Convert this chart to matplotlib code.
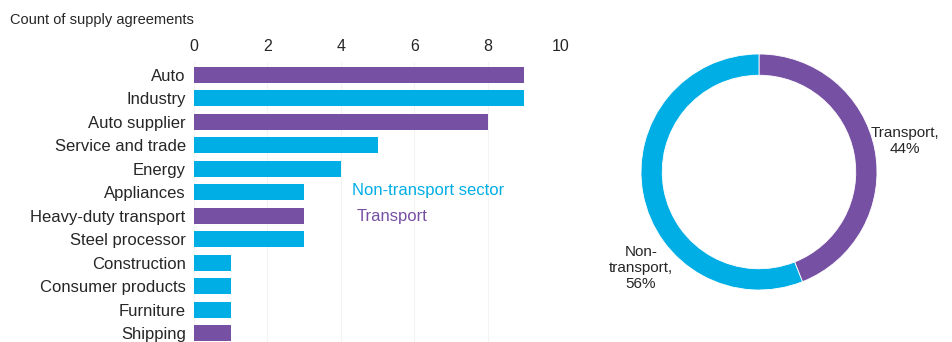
import numpy as np
import matplotlib.pyplot as plt

plt.rcParams['font.family'] = ['Liberation Sans', 'DejaVu Sans']

sectors = ['Auto', 'Industry', 'Auto supplier', 'Service and trade', 'Energy',
           'Appliances', 'Heavy-duty transport', 'Steel processor', 'Construction',
           'Consumer products', 'Furniture', 'Shipping']
counts = [9, 9, 8, 5, 4, 3, 3, 3, 1, 1, 1, 1]
is_transport = [True, False, True, False, False, False, True, False, False,
                False, False, True]

share_labels = ['Transport,\n44%', 'Non-\ntransport,\n56%']
shares = [44, 56]

purple = '#7650A3'
cyan = '#00AEE6'
txt = '#262626'

fig = plt.figure(figsize=(9.52, 3.42), dpi=100)

# bar chart
ax = fig.add_axes([194 / 952, 0.0, (561 - 194) / 952, (342 - 62) / 342])
y = np.arange(len(sectors))
colors = [purple if t else cyan for t in is_transport]
ax.barh(y, counts, height=0.68, color=colors, zorder=2)
ax.set_xlim(0, 10)
ax.set_ylim(11.38, -0.55)
ax.set_xticks([0, 2, 4, 6, 8, 10])
ax.xaxis.tick_top()
ax.tick_params(axis='x', length=0, labelsize=11.5, colors=txt, pad=6)
ax.set_yticks(y)
ax.set_yticklabels(sectors)
ax.tick_params(axis='y', length=0, labelsize=12, colors=txt, pad=6)
ax.grid(axis='x', color='#f3f3f3', linewidth=0.8, zorder=0)
for s in ax.spines.values():
    s.set_visible(False)

fig.text(10 / 952, 1 - 20 / 342, 'Count of supply agreements', fontsize=10.5,
         color=txt, va='center', ha='left')
fig.text(352 / 952, 1 - 191 / 342, 'Non-transport sector', fontsize=12,
         color=cyan, va='center', ha='left')
fig.text(357 / 952, 1 - 216 / 342, 'Transport', fontsize=12,
         color=purple, va='center', ha='left')

# donut
r = 118
cx, cy = 759, 172
ax2 = fig.add_axes([(cx - r) / 952, 1 - (cy + r) / 342, 2 * r / 952, 2 * r / 342])
ax2.pie(shares, colors=[purple, cyan], startangle=90, counterclock=False,
        radius=1, wedgeprops=dict(width=0.18, edgecolor='white', linewidth=0.6))
ax2.set_aspect('equal')
ax2.set_xlim(-1, 1)
ax2.set_ylim(-1, 1)

fig.text(905 / 952, 1 - 141 / 342, share_labels[0], fontsize=11, color=txt,
         ha='center', va='center', linespacing=1.15)
fig.text(641 / 952, 1 - 268 / 342, share_labels[1], fontsize=11, color=txt,
         ha='center', va='center', linespacing=1.15)

fig.savefig('out.png', dpi=100)
